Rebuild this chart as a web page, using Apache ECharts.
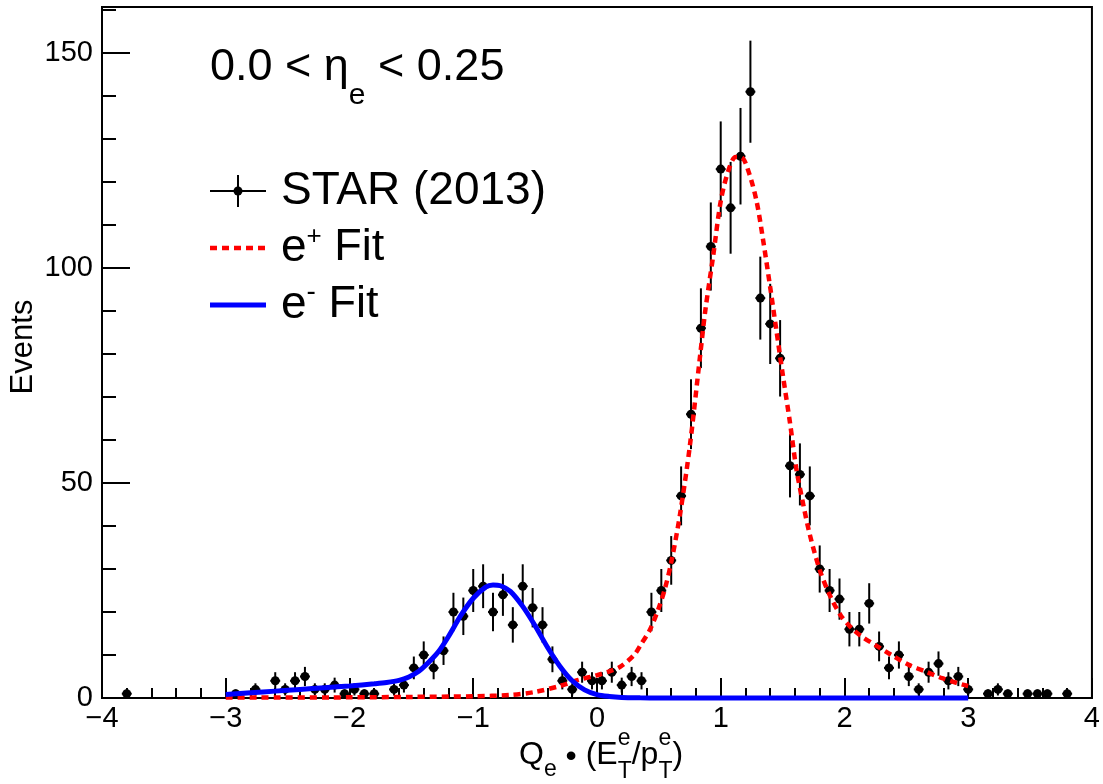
<!DOCTYPE html>
<html><head><meta charset="utf-8">
<script src="https://cdn.jsdelivr.net/npm/echarts@6/dist/echarts.min.js"></script>
<style>html,body{margin:0;padding:0;background:#fff}#c{width:1103px;height:784px}</style>
</head><body><div id="c"></div>
<script>
// ---- data ----
const binHalfWidth = 0.04;
const starX = [-3.80,-2.92,-2.76,-2.60,-2.52,-2.44,-2.36,-2.28,-2.20,-2.12,-2.04,-1.96,-1.88,-1.80,
  -1.64,-1.56,-1.48,-1.40,-1.32,-1.24,-1.16,-1.08,-1.00,-0.92,-0.84,-0.76,-0.68,-0.60,-0.52,-0.44,-0.36,-0.28,-0.20,-0.12,-0.04,
  0.04,0.12,0.20,0.28,0.36,0.44,0.52,0.60,0.68,0.76,0.84,0.92,1.00,1.08,1.16,1.24,1.32,1.40,1.48,1.56,1.64,1.72,1.80,1.88,1.96,
  2.04,2.12,2.20,2.28,2.36,2.44,2.52,2.60,2.68,2.76,2.84,2.92,3.00,3.16,3.24,3.32,3.48,3.56,3.64,3.80];
const starCounts = [1,1,2,4,2,4,5,2,2,3,1,2,1,1,
  2,3,7,10,7,11,20,19,25,26,20,24,17,26,21,17,9,4,2,6,4,
  4,6,3,5,4,20,25,32,47,66,86,105,123,114,126,141,93,87,79,54,52,47,30,25,23,
  16,16,22,12,7,10,5,2,6,8,4,5,2,1,2,1,1,1,1,1];

const ePlusX = [-3.0,-2.0,-1.5,-1.0,-0.7,-0.5,-0.3,-0.15,0.0,0.1,0.19,0.3,0.35,0.43,0.5,0.55,0.6,0.67,0.75,0.835,0.875,0.94,1.0,1.06,1.12,1.17,1.23,1.29,1.34,1.4,1.45,1.5,1.56,1.61,1.66,1.72,1.8,1.88,1.97,2.06,2.14,2.25,2.38,2.52,2.66,2.79,2.92,3.0];
const ePlusY = [0.1,0.15,0.25,0.4,0.7,1.4,2.8,4.2,5.3,6.2,7.3,10,12.2,16,21,25.5,31.5,42.5,58.5,80,90,103,115.5,122.5,125.8,125.7,122,115.5,107,95.5,85.5,75.5,64,53.5,46,38,29.8,24,19.2,16.2,14.3,12.3,10,7.7,6.1,4.6,3.4,2.8];

const eMinusX = [-3.0,-2.8,-2.6,-2.4,-2.2,-2.0,-1.8,-1.7,-1.6,-1.52,-1.44,-1.36,-1.28,-1.2,-1.1,-1.0,-0.9,-0.84,-0.78,-0.7,-0.6,-0.5,-0.4,-0.3,-0.2,-0.1,0.0,0.1,0.2,0.35,0.5,1.0,2.0,3.0];
const eMinusY = [0.8,1.2,1.6,2.0,2.4,2.8,3.3,3.6,4.1,4.9,6.2,8.3,10.8,14.3,19.2,23.2,25.8,26.3,26.1,24.8,21.3,16.8,11.8,7.4,4.0,1.9,0.8,0.35,0.12,0.03,0,0,0,0];

const xMajorTicks = [-4,-3,-2,-1,0,1,2,3,4];
const yMajorTicks = [0,50,100,150];
const yMax = 160.7;

// ---- chart ----
const FONT = '"Liberation Sans", Arial, Helvetica, sans-serif';
const chart = echarts.init(document.getElementById('c'), null, {renderer:'canvas'});
const mctx = document.createElement('canvas').getContext('2d');
function tw(t, size){ mctx.font = size + 'px ' + FONT; return mctx.measureText(t).width; }
function runText(x0, pieces){
  const out = []; let x = x0;
  pieces.forEach(p => {
    if (p.stack){
      let w = 0;
      p.stack.forEach(s => { out.push({type:'text', x:x, y:s.cy, style:{text:s.t, font:s.size+'px '+FONT, fill:'#000', align:'left', verticalAlign:'middle'}}); w = Math.max(w, tw(s.t,s.size)); });
      x += w;
    } else {
      out.push({type:'text', x:x, y:p.cy, style:{text:p.t, font:p.size+'px '+FONT, fill:'#000', align:'left', verticalAlign:'middle'}});
      x += tw(p.t, p.size);
    }
  });
  return out;
}
const minusFmt = v => (v < 0 ? '\u2212' : '') + Math.abs(v);

const graphics = [].concat(
  runText(210, [{t:'0.0 < \u03b7', size:45, cy:68},{t:'e', size:30, cy:96},{t:' < 0.25', size:45, cy:68}]),
  runText(281, [{t:'STAR (2013)', size:46, cy:191}]),
  runText(281, [{t:'e', size:46, cy:248},{t:'+', size:26, cy:237},{t:' Fit', size:45, cy:248}]),
  runText(281, [{t:'e', size:46, cy:305},{t:'-', size:28, cy:292},{t:' Fit', size:45, cy:305}]),
  runText(519, [{t:'Q', size:32, cy:755},{t:'e', size:23, cy:770},{t:' \u2022 ', size:32, cy:757},{t:'(E', size:32, cy:755},
    {stack:[{t:'e', size:23, cy:739},{t:'T', size:23, cy:772}]},{t:'/p', size:32, cy:755},
    {stack:[{t:'e', size:23, cy:739},{t:'T', size:23, cy:772}]},{t:')', size:32, cy:755}]),
  [
    {type:'text', x:23, y:347, rotation:Math.PI/2, style:{text:'Events', font:'31px '+FONT, fill:'#000', align:'center', verticalAlign:'middle'}},
    {type:'line', shape:{x1:210,y1:191,x2:266,y2:191}, style:{stroke:'#000', lineWidth:2}},
    {type:'line', shape:{x1:238,y1:175,x2:238,y2:207}, style:{stroke:'#000', lineWidth:2}},
    {type:'circle', shape:{cx:238,cy:191,r:4.5}, style:{fill:'#000'}},
    {type:'line', shape:{x1:210,y1:248,x2:266,y2:248}, style:{stroke:'#ff0000', lineWidth:4.5, lineDash:[7,5]}},
    {type:'line', shape:{x1:210,y1:305,x2:266,y2:305}, style:{stroke:'#0000ff', lineWidth:5}}
  ]
);

const lineOn = {show:true, onZero:false, lineStyle:{color:'#000', width:2}};
const lineOff = {show:false, onZero:false};

chart.setOption({
  animation:false,
  backgroundColor:'#fff',
  grid:{left:102, right:7, top:7, bottom:86, show:true, borderColor:'#000', borderWidth:2, backgroundColor:'transparent'},
  xAxis:[
    {type:'value', min:xMajorTicks[0], max:xMajorTicks[xMajorTicks.length-1], interval:1, position:'bottom',
      splitLine:{show:false}, axisLine:lineOn,
      axisTick:{show:true, inside:true, length:20, lineStyle:{color:'#000', width:2}},
      axisLabel:{show:true, fontSize:29, fontFamily:FONT, color:'#000', margin:6, formatter:minusFmt}},
    {type:'value', min:-4, max:4, interval:0.2, position:'bottom', splitLine:{show:false}, axisLine:lineOff,
      axisTick:{show:true, inside:true, length:10, lineStyle:{color:'#000', width:2}}, axisLabel:{show:false}}
  ],
  yAxis:[
    {type:'value', min:0, max:yMax, interval:50, position:'left', splitLine:{show:false}, axisLine:lineOn,
      axisTick:{show:true, inside:true, length:28, lineStyle:{color:'#000', width:2}},
      axisLabel:{show:true, fontSize:29, fontFamily:FONT, color:'#000', margin:9, showMaxLabel:false,
        formatter: v => yMajorTicks.includes(Math.round(v*1000)/1000) ? String(v) : ''}},
    {type:'value', min:0, max:yMax, interval:10, position:'left', splitLine:{show:false}, axisLine:lineOff,
      axisTick:{show:true, inside:true, length:14, lineStyle:{color:'#000', width:2}}, axisLabel:{show:false}}
  ],
  graphic: graphics,
  series:[
    {
      type:'custom', xAxisIndex:0, yAxisIndex:0, z:3, clip:false,
      data: starX.map((x,i)=>[x, starCounts[i]]),
      renderItem(params, api){
        const x = api.value(0), y = api.value(1), e = Math.sqrt(y);
        const c = api.coord([x,y]);
        const t = api.coord([x, y+e]);
        const b = api.coord([x, Math.max(0, y-e)]);
        const l = api.coord([x-binHalfWidth, y]);
        const r = api.coord([x+binHalfWidth, y]);
        return {type:'group', children:[
          {type:'line', shape:{x1:c[0],y1:t[1],x2:c[0],y2:b[1]}, style:{stroke:'#000', lineWidth:2}},
          {type:'line', shape:{x1:l[0],y1:c[1],x2:r[0],y2:c[1]}, style:{stroke:'#000', lineWidth:2}},
          {type:'circle', shape:{cx:c[0],cy:c[1],r:4.5}, style:{fill:'#000'}}
        ]};
      }
    },
    {
      type:'line', name:'e+ Fit', z:4, clip:false, showSymbol:false, smooth:0.3,
      data: ePlusX.map((x,i)=>[x, ePlusY[i]]),
      lineStyle:{color:'#ff0000', width:4.5, type:[7,5]}
    },
    {
      type:'line', name:'e- Fit', z:5, clip:false, showSymbol:false, smooth:0.3,
      data: eMinusX.map((x,i)=>[x, eMinusY[i]]),
      lineStyle:{color:'#0000ff', width:5}
    }
  ]
});
</script>
</body></html>
